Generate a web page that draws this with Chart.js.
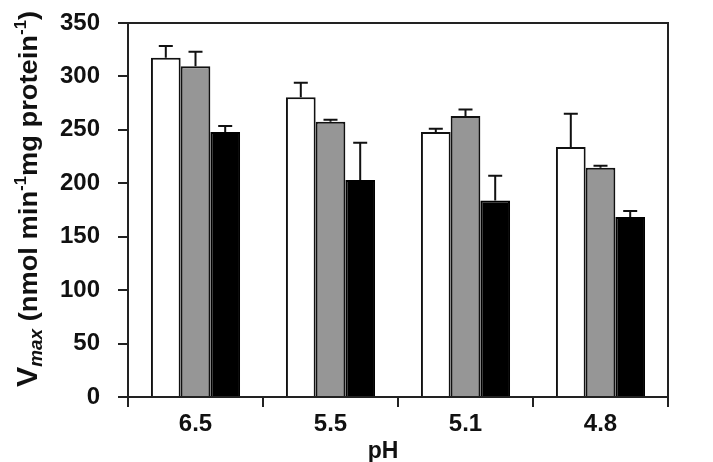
<!DOCTYPE html>
<html>
<head>
<meta charset="utf-8">
<script src="https://cdn.jsdelivr.net/npm/chart.js@4/dist/chart.umd.min.js"></script>
<style>
html,body{margin:0;padding:0;background:#fff;}
#wrap{width:713px;height:462px;position:relative;}
</style>
</head>
<body>
<div id="wrap"><canvas id="c" width="713" height="462"></canvas></div>
<script>
const categories = ["6.5", "5.5", "5.1", "4.8"];
const whiteValues = [317.5, 280.5, 248, 234];
const whiteErrors = [11, 13.5, 3, 31];
const grayValues = [309.5, 257.5, 263, 214.5];
const grayErrors = [13.5, 2, 6, 2];
const blackValues = [248, 203, 184, 168.5];
const blackErrors = [5.5, 35, 23, 5.5];
const yTicks = [0, 50, 100, 150, 200, 250, 300, 350];

const FONT = "'Liberation Sans', Arial, sans-serif";

const errorBarPlugin = {
  id: 'errorBars',
  afterDatasetsDraw(chart) {
    const ctx = chart.ctx;
    const yScale = chart.scales.y;
    ctx.save();
    ctx.strokeStyle = '#111';
    ctx.lineWidth = 2;
    chart.data.datasets.forEach((ds, i) => {
      const meta = chart.getDatasetMeta(i);
      meta.data.forEach((bar, j) => {
        const v = ds.data[j];
        const e = ds.errors[j];
        const yTop = yScale.getPixelForValue(v + e);
        const yBase = yScale.getPixelForValue(v);
        ctx.beginPath();
        ctx.moveTo(bar.x, yBase);
        ctx.lineTo(bar.x, yTop);
        ctx.moveTo(bar.x - 7, yTop);
        ctx.lineTo(bar.x + 7, yTop);
        ctx.stroke();
      });
    });
    ctx.restore();
  }
};

const framePlugin = {
  id: 'frame',
  afterDraw(chart) {
    const ctx = chart.ctx;
    const a = chart.chartArea;
    ctx.save();
    ctx.strokeStyle = '#222';
    ctx.lineWidth = 2;
    ctx.beginPath();
    ctx.moveTo(a.left, a.top);
    ctx.lineTo(a.right, a.top);
    ctx.lineTo(a.right, a.bottom);
    ctx.stroke();
    ctx.restore();

    // x axis title
    ctx.save();
    ctx.fillStyle = '#111';
    ctx.font = 'bold 23px ' + FONT;
    ctx.textAlign = 'center';
    ctx.textBaseline = 'alphabetic';
    ctx.fillText('pH', (a.left + a.right) / 2 - 15, 458);
    ctx.restore();

    // y axis title with subscript/superscripts
    ctx.save();
    ctx.translate(37, (a.top + a.bottom) / 2 - 11);
    ctx.rotate(-Math.PI / 2);
    ctx.scale(1.05, 1);
    const parts = [
      {t: 'V', f: 'bold 29px ' + FONT, dy: 0},
      {t: 'max', f: 'italic bold 18px ' + FONT, dy: 5},
      {t: ' (nmol min', f: 'bold 26px ' + FONT, dy: 0},
      {t: '-1', f: 'bold 16px ' + FONT, dy: -11},
      {t: 'mg protein', f: 'bold 26px ' + FONT, dy: 0},
      {t: '-1', f: 'bold 16px ' + FONT, dy: -11},
      {t: ')', f: 'bold 26px ' + FONT, dy: 0}
    ];
    let total = 0;
    parts.forEach(p => { ctx.font = p.f; p.w = ctx.measureText(p.t).width; total += p.w; });
    let x = -total / 2;
    ctx.fillStyle = '#111';
    ctx.textBaseline = 'alphabetic';
    ctx.textAlign = 'left';
    parts.forEach(p => { ctx.font = p.f; ctx.fillText(p.t, x, p.dy); x += p.w; });
    ctx.restore();
  }
};

new Chart(document.getElementById('c'), {
  type: 'bar',
  data: {
    labels: categories,
    datasets: [
      {label: 'A', data: whiteValues, errors: whiteErrors, backgroundColor: '#ffffff', borderColor: '#111', borderWidth: 2},
      {label: 'B', data: grayValues, errors: grayErrors, backgroundColor: '#969696', borderColor: '#111', borderWidth: 2},
      {label: 'C', data: blackValues, errors: blackErrors, backgroundColor: '#000000', borderColor: '#000', borderWidth: 2}
    ]
  },
  options: {
    responsive: false,
    animation: false,
    devicePixelRatio: 1,
    layout: {padding: {top: 23, right: 45, left: 0, bottom: 0}},
    datasets: {bar: {categoryPercentage: 0.66, barPercentage: 1.0}},
    plugins: {legend: {display: false}, tooltip: {enabled: false}},
    scales: {
      x: {
        grid: {display: true, drawOnChartArea: false, drawTicks: true, tickLength: 10, offset: true, color: '#222', lineWidth: 2},
        border: {display: true, color: '#222', width: 2},
        ticks: {color: '#111', font: {family: FONT, size: 24, weight: 'bold'}, padding: 3, maxRotation: 0},
        afterFit(s) { s.height = 65; }
      },
      y: {
        min: 0, max: 350,
        afterBuildTicks(s) { s.ticks = yTicks.map(v => ({value: v})); },
        grid: {display: true, drawOnChartArea: false, drawTicks: true, tickLength: 10, color: '#222', lineWidth: 2},
        border: {display: true, color: '#222', width: 2},
        ticks: {color: '#111', font: {family: FONT, size: 24, weight: 'bold'}, padding: 18},
        afterFit(s) { s.width = 128; s.paddingTop = 14; s.paddingBottom = 14; }
      }
    }
  },
  plugins: [errorBarPlugin, framePlugin]
});
</script>
</body>
</html>
